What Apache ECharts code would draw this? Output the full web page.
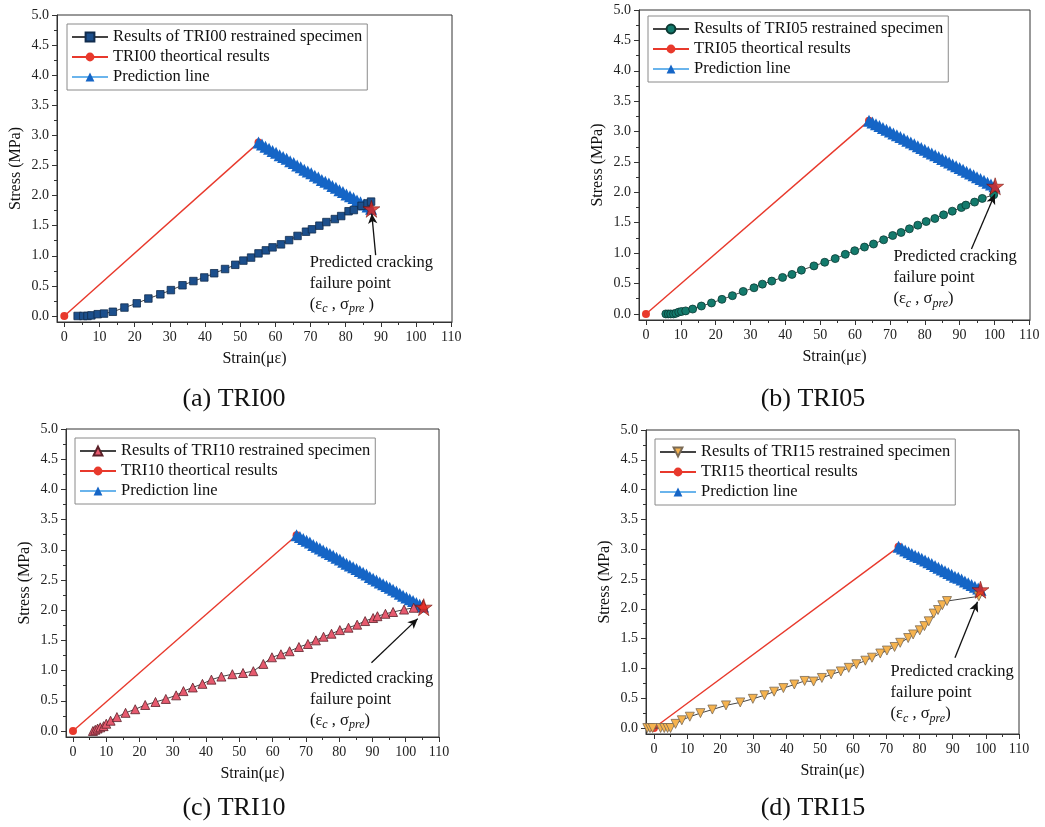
<!DOCTYPE html>
<html>
<head>
<meta charset="utf-8">
<title>Restrained specimen stress–strain</title>
<script src="https://cdn.jsdelivr.net/npm/echarts@6/dist/echarts.min.js"></script>
<style>
  html, body { margin: 0; padding: 0; background: #fff; }
  #chart { width: 1045px; height: 827px; }
</style>
</head>
<body>
<div id="chart"></div>
<script>
// ---- tick values shared by all four panels ----
const strainTicks = [0, 10, 20, 30, 40, 50, 60, 70, 80, 90, 100, 110];
const strainMinorTicks = [5, 15, 25, 35, 45, 55, 65, 75, 85, 95, 105];
const stressTicks = [0, 0.5, 1.0, 1.5, 2.0, 2.5, 3.0, 3.5, 4.0, 4.5, 5.0];
const stressMinorTicks = [0.25, 0.75, 1.25, 1.75, 2.25, 2.75, 3.25, 3.75, 4.25, 4.75];

// ---- TRI00 ----
const tri00Results = [[3.8,0],[5.4,0],[6.6,0],[7.7,0.01],[9.5,0.03],[11.3,0.04],[13.8,0.07],[17.1,0.14],[20.6,0.21],[23.9,0.29],[27.3,0.36],[30.3,0.43],[33.6,0.51],[36.7,0.58],[39.8,0.64],[42.6,0.71],[45.7,0.78],[48.6,0.85],[50.9,0.92],[53.1,0.97],[55.2,1.04],[57.3,1.09],[59.2,1.14],[61.6,1.19],[63.9,1.26],[66.3,1.33],[68.7,1.40],[70.4,1.44],[72.5,1.50],[74.5,1.56],[76.9,1.61],[78.7,1.66],[80.8,1.74],[82.3,1.76],[84.5,1.83],[86.2,1.87],[87.2,1.90]];
const tri00Theory = [[0,0],[55.2,2.88]];
const tri00Prediction = [[55.2,2.88],[56.2,2.85],[57.2,2.81],[58.2,2.78],[59.2,2.74],[60.2,2.71],[61.2,2.67],[62.2,2.64],[63.2,2.61],[64.2,2.57],[65.2,2.54],[66.2,2.50],[67.2,2.47],[68.2,2.43],[69.2,2.40],[70.2,2.37],[71.2,2.33],[72.2,2.30],[73.2,2.26],[74.2,2.23],[75.2,2.20],[76.2,2.16],[77.2,2.13],[78.2,2.09],[79.2,2.06],[80.2,2.02],[81.2,1.99],[82.2,1.96],[83.2,1.92],[84.2,1.89],[85.2,1.85],[86.2,1.82],[87.2,1.78]];
const tri00Failure = [87.3, 1.78];

// ---- TRI05 ----
const tri05Results = [[5.7,0],[6.4,0],[7.1,0],[7.9,0],[8.6,0.01],[9.4,0.03],[10.2,0.04],[11.4,0.05],[13.4,0.08],[15.9,0.13],[18.8,0.18],[21.8,0.24],[24.8,0.30],[27.9,0.37],[31.0,0.43],[33.4,0.49],[36.1,0.54],[39.2,0.60],[41.9,0.65],[44.6,0.72],[48.2,0.79],[51.3,0.85],[54.3,0.91],[57.2,0.98],[59.9,1.04],[62.7,1.10],[65.3,1.15],[68.2,1.22],[70.8,1.29],[73.2,1.34],[75.6,1.40],[78.0,1.46],[80.4,1.52],[82.9,1.57],[85.4,1.63],[87.9,1.69],[90.5,1.75],[91.8,1.79],[94.3,1.84],[96.5,1.90],[99.8,1.96]];
const tri05Theory = [[0,0],[64,3.18]];
const tri05Prediction = [[64,3.18],[65,3.15],[66,3.12],[67,3.09],[68,3.06],[69,3.03],[70,3.00],[71,2.97],[72,2.94],[73,2.91],[74,2.88],[75,2.85],[76,2.82],[77,2.79],[78,2.76],[79,2.73],[80,2.70],[81,2.67],[82,2.64],[83,2.61],[84,2.58],[85,2.55],[86,2.52],[87,2.49],[88,2.46],[89,2.43],[90,2.40],[91,2.37],[92,2.34],[93,2.31],[94,2.28],[95,2.25],[96,2.22],[97,2.19],[98,2.16],[99,2.13],[100,2.10]];
const tri05Failure = [100.2, 2.10];

// ---- TRI10 ----
const tri10Results = [[6.0,0],[6.7,0.02],[7.4,0.04],[8.2,0.06],[9.2,0.08],[10.0,0.12],[11.3,0.17],[13.2,0.23],[15.8,0.30],[18.7,0.36],[21.7,0.43],[24.8,0.48],[27.9,0.53],[31.0,0.59],[33.2,0.66],[36.0,0.72],[38.9,0.78],[41.6,0.85],[44.6,0.90],[47.9,0.94],[51.1,0.96],[54.2,0.99],[57.2,1.11],[59.8,1.22],[62.5,1.27],[65.1,1.32],[67.9,1.39],[70.6,1.44],[73.0,1.50],[75.3,1.56],[77.7,1.61],[80.2,1.67],[82.8,1.71],[85.4,1.76],[87.8,1.82],[90.2,1.87],[91.5,1.90],[93.9,1.94],[96.2,1.97],[99.5,2.01],[102.4,2.04],[105.2,2.09]];
const tri10Theory = [[0,0],[67.2,3.24]];
const tri10Prediction = [[67.2,3.24],[68.2,3.21],[69.2,3.18],[70.2,3.15],[71.2,3.12],[72.2,3.08],[73.2,3.05],[74.2,3.02],[75.2,2.99],[76.2,2.96],[77.2,2.93],[78.2,2.90],[79.2,2.87],[80.2,2.84],[81.2,2.80],[82.2,2.77],[83.2,2.74],[84.2,2.71],[85.2,2.68],[86.2,2.65],[87.2,2.62],[88.2,2.59],[89.2,2.55],[90.2,2.52],[91.2,2.49],[92.2,2.46],[93.2,2.43],[94.2,2.40],[95.2,2.37],[96.2,2.34],[97.2,2.31],[98.2,2.27],[99.2,2.24],[100.2,2.21],[101.2,2.18],[102.2,2.15],[103.2,2.12],[104.2,2.09],[105.2,2.06]];
const tri10Failure = [105.4, 2.05];

// ---- TRI15 ----
const tri15Results = [[-2.0,0],[-1.2,0],[-0.4,0],[2.0,0],[3.1,0],[4.1,0],[5.0,0],[6.5,0.07],[8.4,0.13],[10.8,0.19],[14.0,0.25],[17.6,0.31],[21.7,0.38],[26.0,0.43],[29.8,0.49],[33.3,0.55],[36.2,0.61],[39.0,0.67],[42.3,0.73],[45.4,0.79],[48.1,0.78],[50.6,0.84],[53.4,0.90],[56.3,0.95],[58.7,1.01],[61.0,1.07],[63.7,1.13],[65.7,1.18],[68.2,1.25],[70.2,1.30],[72.5,1.36],[74.2,1.43],[76.6,1.51],[78.1,1.57],[80.1,1.64],[81.5,1.71],[82.8,1.79],[84.3,1.92],[85.6,1.98],[86.9,2.06],[88.3,2.13],[97.9,2.21]];
const tri15Theory = [[0,0],[73.7,3.04]];
const tri15Prediction = [[73.7,3.04],[74.7,3.01],[75.7,2.98],[76.7,2.95],[77.7,2.92],[78.7,2.89],[79.7,2.87],[80.7,2.84],[81.7,2.81],[82.7,2.78],[83.7,2.75],[84.7,2.72],[85.7,2.69],[86.7,2.66],[87.7,2.63],[88.7,2.60],[89.7,2.57],[90.7,2.54],[91.7,2.52],[92.7,2.49],[93.7,2.46],[94.7,2.43],[95.7,2.40],[96.7,2.37],[97.7,2.34],[98.4,2.32]];
const tri15Failure = [98.4, 2.32];

const FONT = "'Liberation Serif', 'Times New Roman', Times, serif";
const STAR = 'path://M50,2 L61.2,36.2 L97.6,36.2 L68.2,57.4 L79.4,91.6 L50,70.4 L20.6,91.6 L31.8,57.4 L2.4,36.2 L38.8,36.2 Z';

// Layout and styling for each panel
const panels = [
  {
    title: '(a) TRI00', titleAt: [234, 399],
    grid: { left: 57, top: 15, width: 395, height: 307 }, xMin: -2.07, xMax: 110.2,
    legendAt: { left: 67, top: 24 },
    resultsName: 'Results of TRI00 restrained specimen', theoryName: 'TRI00 theortical results',
    results: tri00Results, theory: tri00Theory, prediction: tri00Prediction, failure: tri00Failure,
    symbol: 'rect', rotate: 0, size: 7.5, fill: '#1c4f8c', stroke: '#112c4d',
    noteAt: [69.8, 0.545], arrowFrom: [88.5, 1.01], arrowTo: [87.4, 1.70], closeSpace: ' )'
  },
  {
    title: '(b) TRI05', titleAt: [813, 399],
    grid: { left: 639, top: 10, width: 391, height: 310 }, xMin: -2.0, xMax: 110.2,
    legendAt: { left: 648, top: 16 },
    resultsName: 'Results of TRI05 restrained specimen', theoryName: 'TRI05 theortical results',
    results: tri05Results, theory: tri05Theory, prediction: tri05Prediction, failure: tri05Failure,
    symbol: 'circle', rotate: 0, size: 8, fill: '#137a6c', stroke: '#0b3a33',
    noteAt: [71.0, 0.59], arrowFrom: [93.4, 1.07], arrowTo: [100.1, 1.97], closeSpace: ')'
  },
  {
    title: '(c) TRI10', titleAt: [234, 808],
    grid: { left: 66, top: 429, width: 373, height: 308 }, xMin: -2.1, xMax: 110,
    legendAt: { left: 75, top: 438 },
    resultsName: 'Results of TRI10 restrained specimen', theoryName: 'TRI10 theortical results',
    results: tri10Results, theory: tri10Theory, prediction: tri10Prediction, failure: tri10Failure,
    symbol: 'triangle', rotate: 0, size: 9, fill: '#e65a6e', stroke: '#5a2028',
    noteAt: [71.2, 0.52], arrowFrom: [89.7, 1.13], arrowTo: [103.6, 1.86], closeSpace: ')'
  },
  {
    title: '(d) TRI15', titleAt: [813, 808],
    grid: { left: 646, top: 430, width: 373, height: 304 }, xMin: -2.4, xMax: 110,
    legendAt: { left: 655, top: 439 },
    resultsName: 'Results of TRI15 restrained specimen', theoryName: 'TRI15 theortical results',
    results: tri15Results, theory: tri15Theory, prediction: tri15Prediction, failure: tri15Failure,
    symbol: 'triangle', rotate: 180, size: 9, fill: '#f6b34e', stroke: '#7a6a55',
    noteAt: [71.3, 0.59], arrowFrom: [90.7, 1.18], arrowTo: [97.5, 2.12], closeSpace: ')'
  }
];

const AXIS_COLOR = '#333';
const TEXT_COLOR = '#111';
const grids = [], xAxes = [], yAxes = [], legends = [], series = [], graphics = [];

panels.forEach((p, i) => {
  grids.push(Object.assign({
    show: true, borderColor: AXIS_COLOR, borderWidth: 1, backgroundColor: 'transparent', containLabel: false
  }, p.grid));

  // main x axis: labelled ticks
  xAxes.push({
    type: 'value', gridIndex: i, min: p.xMin, max: p.xMax, position: 'bottom',
    axisLine: { show: true, onZero: false, lineStyle: { color: AXIS_COLOR, width: 1 } },
    axisTick: { show: true, inside: false, length: 5, customValues: strainTicks, lineStyle: { color: AXIS_COLOR } },
    axisLabel: { customValues: strainTicks, margin: 8, fontSize: 14, fontFamily: FONT, color: '#222' },
    splitLine: { show: false },
    name: 'Strain(με)', nameLocation: 'middle', nameGap: 29,
    nameTextStyle: { fontSize: 16, fontFamily: FONT, color: TEXT_COLOR }
  });
  // minor x ticks
  xAxes.push({
    type: 'value', gridIndex: i, min: p.xMin, max: p.xMax, position: 'bottom',
    axisLine: { show: false, onZero: false },
    axisTick: { show: true, inside: false, length: 3, customValues: strainMinorTicks, lineStyle: { color: AXIS_COLOR } },
    axisLabel: { show: false }, splitLine: { show: false }
  });
  // main y axis
  yAxes.push({
    type: 'value', gridIndex: i, min: -0.1, max: 5, position: 'left',
    axisLine: { show: true, onZero: false, lineStyle: { color: AXIS_COLOR, width: 1 } },
    axisTick: { show: true, inside: false, length: 5, customValues: stressTicks, lineStyle: { color: AXIS_COLOR } },
    axisLabel: {
      customValues: stressTicks, margin: 8, fontSize: 14, fontFamily: FONT, color: '#222',
      formatter: v => Number(v).toFixed(1)
    },
    splitLine: { show: false },
    name: 'Stress (MPa)', nameLocation: 'middle', nameGap: 33,
    nameTextStyle: { fontSize: 16, fontFamily: FONT, color: TEXT_COLOR }
  });
  // minor y ticks
  yAxes.push({
    type: 'value', gridIndex: i, min: -0.1, max: 5, position: 'left',
    axisLine: { show: false, onZero: false },
    axisTick: { show: true, inside: false, length: 3, customValues: stressMinorTicks, lineStyle: { color: AXIS_COLOR } },
    axisLabel: { show: false }, splitLine: { show: false }
  });

  legends.push({
    show: true, orient: 'vertical', left: p.legendAt.left, top: p.legendAt.top,
    data: [p.resultsName, p.theoryName, 'Prediction line'],
    selectedMode: false,
    itemWidth: 36, itemHeight: 11, itemGap: 2,
    padding: [4, 5, 4, 4],
    borderColor: '#8a8a8a', borderWidth: 1, borderRadius: 0, backgroundColor: '#fff',
    textStyle: { fontSize: 16.5, lineHeight: 18, fontFamily: FONT, color: TEXT_COLOR }
  });

  const xi = 2 * i, yi = 2 * i;

  series.push({
    type: 'line', name: p.theoryName, xAxisIndex: xi, yAxisIndex: yi, data: p.theory,
    symbol: 'circle', symbolSize: 8, z: 2,
    lineStyle: { color: '#e8392c', width: 1.4 },
    itemStyle: { color: '#e8392c' }
  });
  series.push({
    type: 'line', name: 'Prediction line', xAxisIndex: xi, yAxisIndex: yi, data: p.prediction,
    symbol: 'triangle', symbolSize: 12, z: 3,
    lineStyle: { color: '#6ab4ec', width: 1 },
    itemStyle: { color: '#1565c6' }
  });
  series.push({
    type: 'line', name: p.resultsName, xAxisIndex: xi, yAxisIndex: yi, data: p.results,
    symbol: p.symbol, symbolRotate: p.rotate, symbolSize: p.size, z: 4,
    lineStyle: { color: '#444', width: 1 },
    itemStyle: { color: p.fill, borderColor: p.stroke, borderWidth: 0.8 }
  });
  series.push({
    type: 'scatter', name: 'failure point', xAxisIndex: xi, yAxisIndex: yi, data: [p.failure],
    symbol: STAR, symbolSize: 17, z: 6,
    itemStyle: { color: '#e3261a', borderColor: '#6b0d08', borderWidth: 0.7 }
  });
  series.push({
    type: 'scatter', name: 'annotation', xAxisIndex: xi, yAxisIndex: yi, data: [p.noteAt],
    symbolSize: 0, z: 5, silent: true,
    itemStyle: { color: TEXT_COLOR, opacity: 1 },
    label: {
      show: true, position: 'right', distance: 0, color: TEXT_COLOR, opacity: 1,
      formatter: '{t|Predicted cracking}\n{t|failure point}\n{t|(ε}{s|c}{t| , σ}{s|pre}{t|' + p.closeSpace + '}',
      rich: {
        t: { fontSize: 16.5, lineHeight: 21, fontFamily: FONT, color: TEXT_COLOR },
        s: { fontSize: 12, lineHeight: 21, fontFamily: FONT, fontStyle: 'italic', color: TEXT_COLOR, verticalAlign: 'bottom' }
      }
    },
    markLine: {
      silent: true, symbol: ['none', 'arrow'], symbolSize: [7, 10],
      label: { show: false },
      lineStyle: { color: TEXT_COLOR, width: 1.3, type: 'solid', opacity: 1 },
      data: [[{ coord: p.arrowFrom }, { coord: p.arrowTo }]]
    }
  });

  graphics.push({
    type: 'text', x: p.titleAt[0], y: p.titleAt[1],
    style: { text: p.title, fontSize: 26, fontFamily: FONT, fill: TEXT_COLOR, align: 'center', verticalAlign: 'middle' }
  });
});

const chart = echarts.init(document.getElementById('chart'), null, { renderer: 'canvas' });
chart.setOption({
  animation: false,
  backgroundColor: '#fff',
  grid: grids,
  xAxis: xAxes,
  yAxis: yAxes,
  legend: legends,
  series: series,
  graphic: graphics
});
</script>
</body>
</html>
